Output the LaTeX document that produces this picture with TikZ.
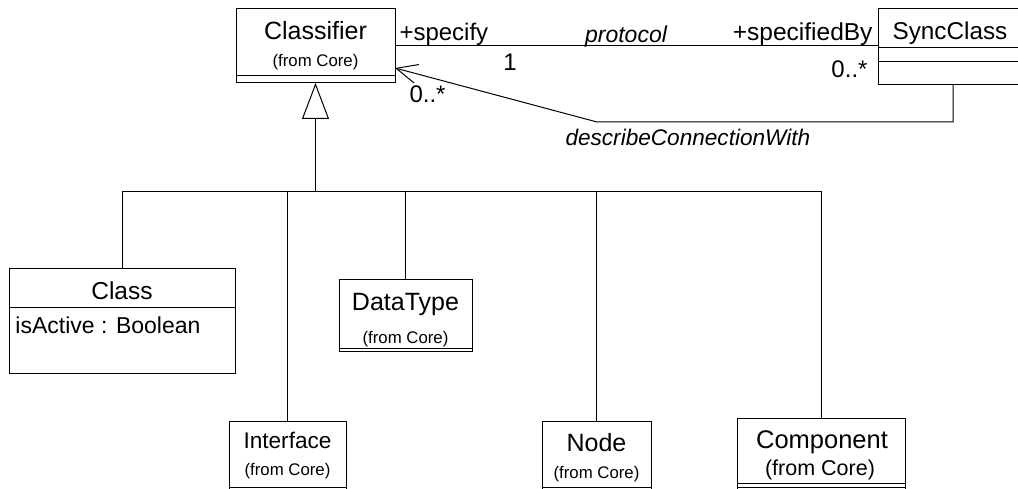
\documentclass[tikz,border=0pt]{standalone}
\usepackage{fontspec}
\setmainfont{Liberation Sans}
\usetikzlibrary{arrows.meta}
\newcommand\uFont[1]{\fontsize{#1}{#1}\selectfont}
\begin{document}
\begin{tikzpicture}[x=1pt,y=-1pt,line width=1pt,
  box/.style={draw,rectangle,inner sep=0pt,outer sep=0pt,anchor=north west},
  lbl/.style={inner sep=0pt,anchor=base},
  lblw/.style={inner sep=0pt,anchor=base west},
  lble/.style={inner sep=0pt,anchor=base east},
  gen/.style={-{Triangle[open,length=36pt,width=27pt]}},
  dep/.style={-{Straight Barb[length=21pt,width=19pt]}}]
\clip (0,0) rectangle (1018,489);
\fill[white] (0,0) rectangle (1018,489);

% boxes
\node[box,minimum width=159pt,minimum height=74pt] (classifier) at (236,9) {};
\draw (classifier.west |- 0,76) -- (classifier.east |- 0,76);
\node[box,minimum width=170pt,minimum height=76pt] (sync) at (878,9) {};
\draw (sync.west |- 0,48) -- (sync.east |- 0,48);
\draw (sync.west |- 0,62) -- (sync.east |- 0,62);
\node[box,minimum width=226pt,minimum height=104pt] (class) at (9,269) {};
\draw (class.west |- 0,308) -- (class.east |- 0,308);
\node[box,minimum width=133pt,minimum height=71pt] (datatype) at (339,280) {};
\draw (datatype.west |- 0,348) -- (datatype.east |- 0,348);
\node[box,minimum width=117pt,minimum height=68pt] (iface) at (229,421) {};
\draw (iface.west |- 0,487.8) -- (iface.east |- 0,487.8);
\node[box,minimum width=109pt,minimum height=68pt] (nodebox) at (542,421) {};
\draw (nodebox.west |- 0,487.8) -- (nodebox.east |- 0,487.8);
\node[box,minimum width=168pt,minimum height=80pt] (comp) at (737,418) {};
\draw (comp.west |- 0,483) -- (comp.east |- 0,483);
\draw (comp.west |- 0,487) -- (comp.east |- 0,487);

% box texts
\node[lbl,font=\uFont{25}] (classifiername) at (315.5,40) {Classifier};
\node[lbl,font=\uFont{16.8}] (classifiersub) at (315.5,67) {(from Core)};
\node[lbl,font=\uFont{24.3}] (syncname) at (950,40) {SyncClass};
\node[lbl,font=\uFont{24.5}] (classname) at (122,299) {Class};
\node[lblw,font=\uFont{23}] (classattr) at (15,333) {isActive : Boolean};
\node[lbl,font=\uFont{25}] (dtname) at (405.5,311) {DataType};
\node[lbl,font=\uFont{16.8}] (dtsub) at (405.5,343) {(from Core)};
\node[lbl,font=\uFont{22.6}] (ifname) at (287.5,448) {Interface};
\node[lbl,font=\uFont{16.8}] (ifsub) at (287.5,475) {(from Core)};
\node[lbl,font=\uFont{25}] (ndname) at (596.5,451) {Node};
\node[lbl,font=\uFont{16.8}] (ndsub) at (596.5,478) {(from Core)};
\node[lbl,font=\uFont{25.5}] (cpname) at (822,448) {Component};
\node[lbl,font=\uFont{21.5}] (cpsub) at (820,475) {(from Core)};

% association
\draw (classifier.east) -- (classifier.east -| sync.west);
\node[lblw,font=\uFont{24}] (specify) at (399,41) {+specify};
\node[lble,font=\uFont{24.5}] (specifiedby) at (873,41) {+specifiedBy};
\node[lbl,font=\uFont{23}\itshape] (protocol) at (626,43) {protocol};
\node[lbl,font=\uFont{24}] (one) at (510,71) {1};
\node[lble,font=\uFont{24}] (manyr) at (868,78) {0..*};

% dependency
\coordinate (d0) at (sync.south -| 953,0);
\coordinate (d1) at (953,122);
\coordinate (d2) at (597,122);
\coordinate (dtip) at (classifier.east |- 0,68);
\draw[dep] (d0) -- (d1) -- (d2) -- (dtip);
\node[lblw,font=\uFont{24}] (manyl) at (409,103) {0..*};
\node[lblw,font=\uFont{22.6}\itshape] (describe) at (565,146) {describeConnectionWith};

% generalization tree
\coordinate (bus) at (classifier.south |- 0,192);
\draw[gen] (bus) -- (classifier.south);
\draw (class.north) -- (class.north |- bus) -- (comp.north |- bus) -- (comp.north);
\draw (iface.north) -- (iface.north |- bus);
\draw (datatype.north) -- (datatype.north |- bus);
\draw (nodebox.north) -- (nodebox.north |- bus);
\end{tikzpicture}
\end{document}
